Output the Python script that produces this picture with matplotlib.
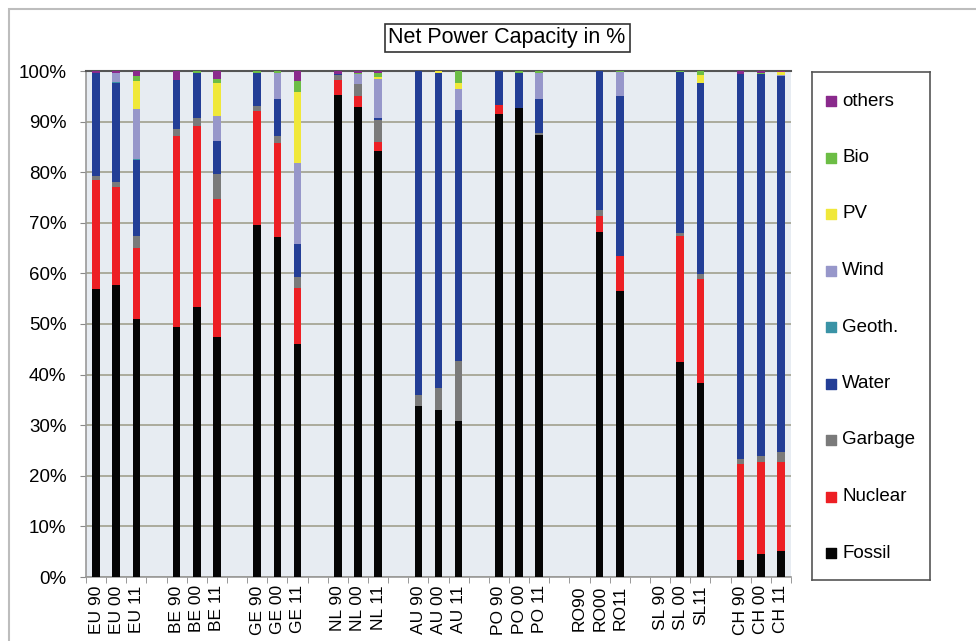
import numpy as np
import matplotlib
matplotlib.use("Agg")
import matplotlib.pyplot as plt
from matplotlib.patches import Rectangle

plt.rcParams['font.family'] = ['Liberation Sans', 'DejaVu Sans']

# categories (three per country, gaps added between groups)
labels = ["EU 90", "EU 00", "EU 11", "BE 90", "BE 00", "BE 11",
          "GE 90", "GE 00", "GE 11", "NL 90", "NL 00", "NL 11",
          "AU 90", "AU 00", "AU 11", "PO 90", "PO 00", "PO 11",
          "RO90", "RO00", "RO11", "SL 90", "SL 00", "SL11",
          "CH 90", "CH 00", "CH 11"]

# shares in %, bottom to top
fossil  = [56.9, 57.8, 50.9, 49.5, 53.3, 47.5, 69.5, 67.1, 46.0, 95.3, 92.9, 84.2,
           33.7, 33.1, 30.9, 91.5, 92.7, 87.3, 0, 68.1, 56.5, 0, 42.5, 38.3, 3.3, 4.5, 5.1]
nuclear = [21.5, 19.2, 14.1, 37.6, 35.9, 27.3, 22.6, 18.6, 11.1, 2.9, 2.2, 1.7,
           0, 0, 0, 1.8, 0, 0, 0, 3.2, 7.0, 0, 24.9, 20.6, 19.1, 18.2, 17.6]
garbage = [0.8, 1.1, 2.3, 1.4, 1.6, 4.9, 0.9, 1.4, 2.2, 1.1, 2.3, 4.4,
           2.2, 4.3, 11.8, 0, 0, 0.5, 0, 1.3, 0, 0, 0.5, 0.9, 1.0, 1.3, 2.0]
water   = [20.5, 19.6, 15.2, 9.7, 8.9, 6.4, 6.7, 7.4, 6.5, 0.2, 0, 0.4,
           64.1, 62.3, 49.6, 6.7, 7.0, 6.7, 0, 27.4, 31.5, 0, 32.0, 37.9, 76.1, 75.4, 74.3]
geoth   = [0, 0.1, 0.2, 0, 0, 0, 0, 0, 0, 0, 0, 0,
           0, 0, 0, 0, 0, 0, 0, 0, 0, 0, 0, 0, 0, 0, 0]
wind    = [0, 1.9, 9.8, 0, 0, 5.0, 0, 5.2, 16.1, 0, 2.0, 7.8,
           0, 0, 4.2, 0, 0, 5.2, 0, 0, 4.9, 0, 0, 0, 0, 0, 0.2]
pv      = [0, 0, 5.6, 0, 0, 6.6, 0, 0, 13.9, 0, 0, 0.4,
           0, 0.3, 1.2, 0, 0, 0, 0, 0, 0, 0, 0, 1.5, 0, 0, 0.6]
bio     = [0, 0, 0.9, 0, 0.3, 0.8, 0.3, 0.3, 2.2, 0, 0.3, 0.8,
           0, 0, 2.3, 0, 0.3, 0.3, 0, 0, 0.1, 0, 0.1, 0.8, 0, 0.2, 0]
others  = [0.3, 0.3, 1.0, 1.8, 0, 1.5, 0, 0, 2.0, 0.5, 0.3, 0.3,
           0, 0, 0, 0, 0, 0, 0, 0, 0, 0, 0, 0, 0.5, 0.4, 0.2]

series = [("Fossil", fossil, "#050505"),
          ("Nuclear", nuclear, "#ED1F24"),
          ("Garbage", garbage, "#7A7A7A"),
          ("Water", water, "#233E96"),
          ("Geoth.", geoth, "#3A93A6"),
          ("Wind", wind, "#9797CA"),
          ("PV", pv, "#F0E83A"),
          ("Bio", bio, "#6CBD45"),
          ("others", others, "#8A2A8C")]

# positions: 3 bars per group, one empty slot between groups
n_slots = 9 * 4 - 1
x = np.array([(i // 3) * 4 + i % 3 for i in range(len(labels))])

fig = plt.figure(figsize=(9.76, 6.41), dpi=100)
fig.patch.set_facecolor("white")
fig.add_artist(Rectangle((9 / 976, -0.1), 1.2, (641 - 9) / 641 + 0.1,
                         transform=fig.transFigure, fill=False,
                         edgecolor="#BDBDBD", lw=1.5))

ax = fig.add_axes([86 / 976, 64 / 641, 705 / 976, 506 / 641])
ax.set_facecolor("#E7ECF2")

bottom = np.zeros(len(labels))
for name, vals, col in series:
    v = np.array(vals)
    ax.bar(x, v, 0.38, bottom=bottom, color=col, zorder=3)
    bottom += v

ax.set_xlim(-0.5, n_slots - 0.5)
ax.set_ylim(0, 100)
ax.set_yticks(np.arange(0, 101, 10))
ax.set_yticklabels([f"{v}%" for v in range(0, 101, 10)], fontsize=13.5)
ax.yaxis.grid(True, color="#ABAB9C", lw=1.4, zorder=1)
ax.set_xticks(x)
ax.set_xticklabels(labels, rotation=90, fontsize=12.5)
ax.set_xticks(np.arange(-0.5, n_slots, 1), minor=True)
ax.tick_params(axis="x", which="major", length=0, pad=6)
ax.tick_params(axis="x", which="minor", length=4, color="#888888")
ax.tick_params(axis="y", length=4, color="#888888", pad=10)
for s in ["left", "bottom"]:
    ax.spines[s].set_color("#999999")
    ax.spines[s].set_linewidth(1.2)
ax.spines["top"].set_color("#555555")
ax.spines["top"].set_linewidth(1.5)
ax.spines["right"].set_visible(False)

fig.text(507 / 976, 1 - 38 / 641, "Net Power Capacity in %", fontsize=15.5,
         ha="center", va="center",
         bbox=dict(boxstyle="square,pad=0.18", fc="white", ec="#333333", lw=1.2))

# legend box
lax = fig.add_axes([812 / 976, (641 - 580) / 641, 118 / 976, 508 / 641])
lax.set_xlim(0, 1)
lax.set_ylim(0, 1)
lax.set_xticks([])
lax.set_yticks([])
for s in lax.spines.values():
    s.set_color("#555555")
    s.set_linewidth(1.2)
for k, (name, vals, col) in enumerate(reversed(series)):
    yy = 1 - (101 - 72 + k * 56.5) / 508
    lax.scatter([19 / 118], [yy], marker="s", s=45, color=col)
    lax.text(30 / 118, yy, name, fontsize=13.5, va="center", ha="left")

fig.savefig("out.png", dpi=100)
